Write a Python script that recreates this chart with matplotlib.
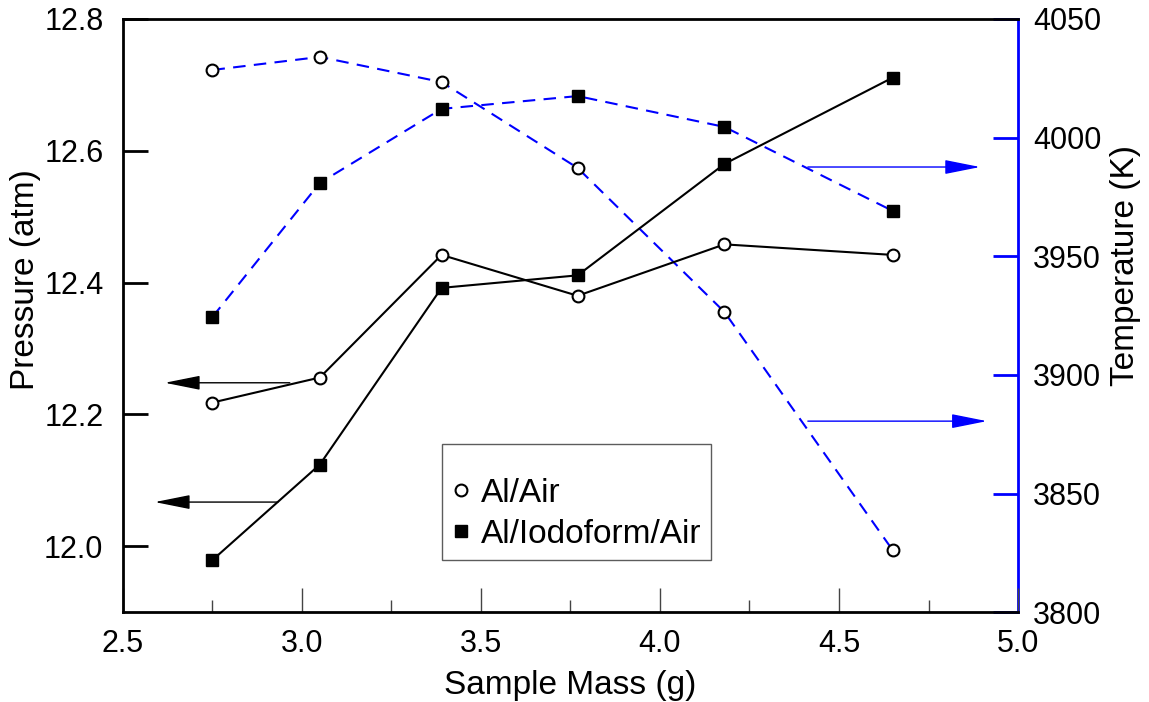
import matplotlib.pyplot as plt

plt.rcParams['font.family'] = ['Liberation Sans', 'DejaVu Sans']

mass = [2.75, 3.05, 3.39, 3.77, 4.18, 4.65]
p_air = [12.218, 12.256, 12.442, 12.380, 12.458, 12.442]
p_iodo = [11.979, 12.124, 12.392, 12.411, 12.580, 12.711]
t_air = [4028.5, 4034.0, 4023.4, 3987.2, 3926.5, 3826.1]
t_iodo = [3924.4, 3980.9, 4012.1, 4017.5, 4004.5, 3969.1]

fig = plt.figure(figsize=(11.49, 7.02), dpi=100)
ax = fig.add_axes([0.107, 0.128, 0.779, 0.845])
ax2 = ax.twinx()
ax.set_zorder(ax2.get_zorder() + 1)
ax.patch.set_visible(False)

ax2.plot(mass, t_air, '--', color='blue', lw=1.5, dashes=(6, 4), zorder=1)
ax2.plot(mass, t_iodo, '--', color='blue', lw=1.5, dashes=(6, 4), zorder=1)
ax2.plot(mass, t_air, 'o', ms=8.5, mfc='white', mec='black', mew=1.5, zorder=3)
ax2.plot(mass, t_iodo, 's', ms=9, mfc='black', mec='black', zorder=3)

l1, = ax.plot(mass, p_air, '-', color='black', lw=1.5, marker='o', ms=8.5,
              mfc='white', mec='black', mew=1.5)
l2, = ax.plot(mass, p_iodo, '-', color='black', lw=1.5, marker='s', ms=9,
              mfc='black', mec='black')

ax.set_xlim(2.5, 5.0)
ax.set_ylim(11.9, 12.8)
ax2.set_ylim(3800, 4050)

ax.set_xticks([2.5, 3.0, 3.5, 4.0, 4.5, 5.0])
ax.set_xticks([2.75, 3.25, 3.75, 4.25, 4.75], minor=True)
ax.set_xticklabels(['2.5', '3.0', '3.5', '4.0', '4.5', '5.0'])
ax.set_yticks([12.0, 12.2, 12.4, 12.6, 12.8])
ax.set_yticklabels(['12.0', '12.2', '12.4', '12.6', '12.8'])
ax2.set_yticks([3800, 3850, 3900, 3950, 4000, 4050])

ax.tick_params(axis='x', which='major', direction='in', length=17, width=1,
               pad=12, labelsize=22, color='#444444')
ax.tick_params(axis='x', which='minor', direction='in', length=9, width=1,
               color='#444444')
ax.tick_params(axis='y', which='major', direction='in', length=18, width=2,
               pad=14, labelsize=22)
ax.tick_params(axis='y', which='minor', left=False)
ax2.tick_params(axis='y', direction='in', length=18, width=2, color='blue',
                pad=11, labelsize=22)

for s in ['left', 'bottom', 'top']:
    ax.spines[s].set_linewidth(2)
ax.spines['right'].set_visible(False)
ax2.spines['right'].set_color('blue')
ax2.spines['right'].set_linewidth(2)
for s in ['left', 'top', 'bottom']:
    ax2.spines[s].set_visible(False)

ax.set_xlabel('Sample Mass (g)', fontsize=24, labelpad=8)
ax.set_ylabel('Pressure (atm)', fontsize=24)
ax.yaxis.set_label_coords(-0.0915, 0.56)
ax2.set_ylabel('Temperature (K)', fontsize=24)
ax2.yaxis.set_label_coords(1.1027, 0.585)

# arrows pointing to axes
ap_k = dict(arrowstyle='-|>,head_length=1.1,head_width=0.22', color='black',
            lw=1, mutation_scale=20, shrinkA=0, shrinkB=0)
ap_b = dict(arrowstyle='-|>,head_length=1.1,head_width=0.22', color='blue',
            lw=1, mutation_scale=20, shrinkA=0, shrinkB=0)
ax.annotate('', xy=(2.617, 12.248), xytext=(2.966, 12.248), arrowprops=ap_k)
ax.annotate('', xy=(2.589, 12.067), xytext=(2.933, 12.067), arrowprops=ap_k)
ax2.annotate('', xy=(4.894, 3987.6), xytext=(4.413, 3987.6), arrowprops=ap_b)
ax2.annotate('', xy=(4.913, 3880.5), xytext=(4.413, 3880.5), arrowprops=ap_b)

leg = ax.legend([l1, l2], ['Al/Air', 'Al/Iodoform/Air'], loc='lower left',
                bbox_to_anchor=(0.357, 0.088), fontsize=24, frameon=True,
                fancybox=False, handlelength=0.5, handletextpad=0.35,
                borderpad=0.3, borderaxespad=0, labelspacing=0.3, title=' ',
                title_fontsize=11)
for h in leg.legend_handles:
    h.set_linestyle('none')
leg.get_frame().set_edgecolor('#333333')
leg.get_frame().set_linewidth(1)

fig.savefig('out.png', dpi=100)
